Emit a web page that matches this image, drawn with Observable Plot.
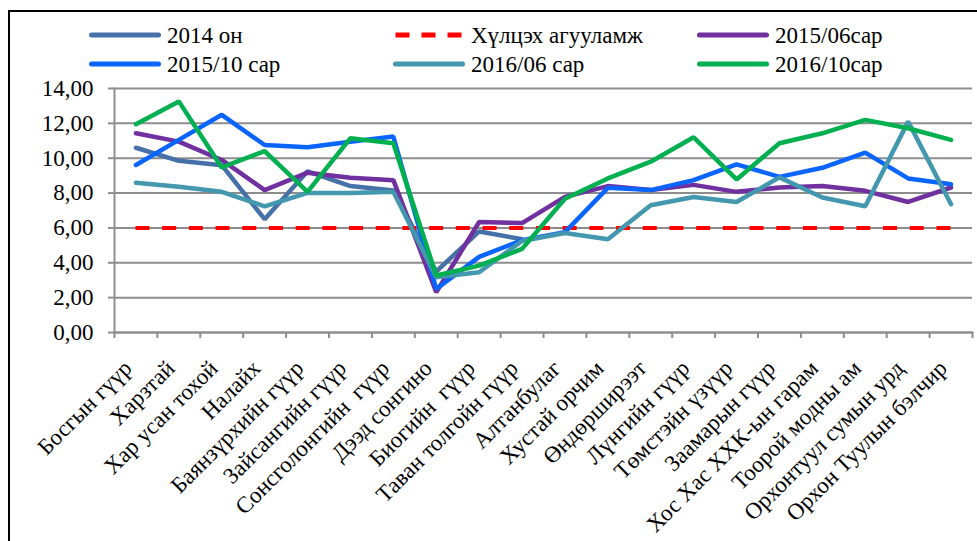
<!DOCTYPE html>
<html>
<head>
<meta charset="utf-8">
<script src="https://cdn.jsdelivr.net/npm/d3@7"></script>
<script src="https://cdn.jsdelivr.net/npm/@observablehq/plot@0.6"></script>
<style>
  html, body { margin: 0; padding: 0; background: #fff; overflow: hidden; }
  #wrap { position: relative; width: 977px; height: 541px; overflow: hidden; font-family: "Liberation Serif", "Times New Roman", serif; color: #000; }
  #frame { position: absolute; left: 8px; top: 10px; width: 1200px; height: 800px; border: 2px solid #000; box-sizing: border-box; pointer-events: none; }
  #chart { position: absolute; left: 0; top: 0; }
  .leg { position: absolute; display: flex; align-items: center; font-size: 23px; line-height: 1; white-space: nowrap; }
  .leg svg { margin-right: 6px; }
</style>
</head>
<body>
<div id="wrap">
  <div id="chart"></div>
  <div id="legend"></div>
  <div id="frame"></div>
</div>
<script>
// Monitoring stations along the river, upstream to downstream
const stations = [
  "Босгын гүүр", "Харзтай", "Хар усан тохой", "Налайх", "Баянзүрхийн гүүр",
  "Зайсангийн гүүр", "Сонсголонгийн  гүүр", "Дээд сонгино", "Биогийн  гүүр",
  "Таван толгойн гүүр", "Алтанбулаг", "Хустай орчим", "Өндөрширээт",
  "Лүнгийн гүүр", "Төмстэйн үзүүр", "Заамарын гүүр", "Хос Хас ХХК-ын гарам",
  "Тоорой модны ам", "Орхонтуул сумын урд", "Орхон Туулын бэлчир"
];

// Measured values per campaign (2014 covers the first ten stations only)
const year2014 = [10.6, 9.85, 9.6, 6.5, 9.25, 8.4, 8.15, 3.5, 5.8, 5.35];
const jun2015 = [11.43, 10.95, 9.9, 8.17, 9.17, 8.88, 8.74, 2.31, 6.34, 6.28, 7.78, 8.4, 8.17, 8.47, 8.07, 8.32, 8.4, 8.13, 7.49, 8.32];
const oct2015 = [9.61, 11.05, 12.49, 10.76, 10.63, 10.95, 11.24, 2.5, 4.34, 5.29, 5.76, 8.3, 8.17, 8.74, 9.65, 8.93, 9.45, 10.32, 8.84, 8.51];
const jun2016 = [8.59, 8.36, 8.07, 7.24, 8.01, 8.01, 8.07, 3.17, 3.46, 5.25, 5.71, 5.35, 7.3, 7.77, 7.49, 8.9, 7.75, 7.24, 12.1, 7.36];
const oct2016 = [11.95, 13.26, 9.47, 10.41, 8.07, 11.15, 10.86, 3.27, 3.84, 4.8, 7.67, 8.84, 9.8, 11.2, 8.78, 10.86, 11.43, 12.2, 11.72, 11.05];

// Permissible level
const limit = 6.0;

// Value axis ticks
const yTicks = [0, 2, 4, 6, 8, 10, 12, 14];

const seriesNames = ["2014 он", "Хүлцэх агууламж", "2015/06сар", "2015/10 сар", "2016/06 сар", "2016/10сар"];
const seriesColors = ["#4670a8", "#ff0000", "#7030a0", "#0a64ff", "#4397ae", "#00b050"];

const serif = "'Liberation Serif', 'Times New Roman', serif";
const gray = "#8d8d8d";
const idx = stations.map((_, i) => i);
const bounds = [...idx.map(i => i - 0.5), stations.length - 0.5];
const fmt = d => d.toFixed(2).replace(".", ",");

const line = (values, color) => Plot.line(values, {
  x: (d, i) => i, y: d => d, stroke: color, strokeWidth: 4.5,
  strokeLinejoin: "miter", strokeLinecap: "round"
});

const chart = Plot.plot({
  width: 977,
  height: 541,
  marginLeft: 114,
  marginRight: 5,
  marginTop: 88,
  marginBottom: 209,
  style: { fontFamily: serif, fontSize: "23px", color: "#000", background: "transparent", overflow: "visible" },
  x: { type: "linear", domain: [-0.5, stations.length - 0.5], axis: null },
  y: { domain: [0, 14], axis: null },
  marks: [
    Plot.gridY(yTicks, { stroke: gray, strokeOpacity: 1, strokeWidth: 2 }),
    Plot.frame({ anchor: "left", stroke: gray, strokeWidth: 2 }),
    Plot.frame({ anchor: "bottom", stroke: gray, strokeWidth: 2 }),
    Plot.axisY(yTicks, { tickSize: 6, tickPadding: 15, stroke: gray, strokeWidth: 2, tickFormat: fmt, fill: "#000", fontSize: 23 }),
    Plot.axisX(bounds, { tickSize: 6, stroke: gray, strokeWidth: 2, tickFormat: () => "" }),
    Plot.axisX(idx, { tickSize: 0, tickPadding: 32, dx: -8, tickRotate: -45, tickFormat: i => stations[i], fill: "#000", fontSize: 23 }),
    line(year2014, seriesColors[0]),
    Plot.ruleY([limit], { x1: 0, x2: stations.length - 1, stroke: seriesColors[1], strokeWidth: 4, strokeDasharray: "14,12.7" }),
    line(jun2015, seriesColors[2]),
    line(oct2015, seriesColors[3]),
    line(jun2016, seriesColors[4]),
    line(oct2016, seriesColors[5])
  ]
});
document.getElementById("chart").append(chart);

// Legend: two rows of three entries
const legend = document.getElementById("legend");
const colX = [89, 393, 697];
const rowY = [35, 64];
seriesNames.forEach((name, i) => {
  const item = document.createElement("div");
  item.className = "leg";
  item.style.left = colX[i % 3] + "px";
  item.style.top = (rowY[Math.floor(i / 3)] - 13) + "px";
  item.style.height = "26px";
  const dashed = i === 1;
  item.innerHTML =
    `<svg width="72" height="10"><line x1="2.5" x2="69.5" y1="5" y2="5" stroke="${seriesColors[i]}" stroke-width="5" ${dashed ? 'stroke-dasharray="14,12" stroke-linecap="butt"' : 'stroke-linecap="round"'}/></svg><span>${name}</span>`;
  legend.append(item);
});
</script>
</body>
</html>
